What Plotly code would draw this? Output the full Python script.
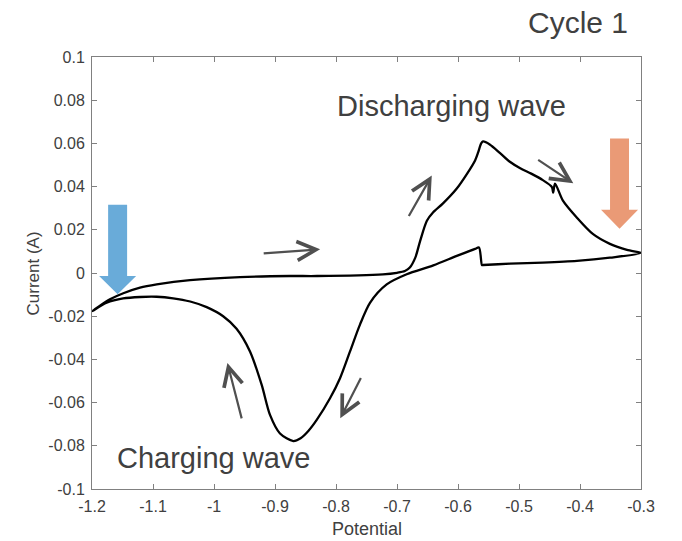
import plotly.graph_objects as go

# Forward (anodic) scan: -1.2 -> -0.3
fwd_x = [-1.2, -1.1705, -1.1487, -1.1213, -1.0939, -1.0393, -0.9574, -0.8754, -0.831, -0.723,
         -0.700, -0.687, -0.679, -0.670, -0.662, -0.651, -0.641, -0.625, -0.602, -0.585,
         -0.572, -0.567, -0.562, -0.559, -0.548, -0.531, -0.515, -0.498, -0.480, -0.461,
         -0.446, -0.444, -0.441, -0.428, -0.405, -0.379, -0.351, -0.323, -0.300]
fwd_y = [-0.0177, -0.0122, -0.0094, -0.0068, -0.0053, -0.0033, -0.0019, -0.0014, -0.0014, -0.0006,
         0.0001, 0.0009, 0.0025, 0.0071, 0.0149, 0.0242, 0.0280, 0.0321, 0.0391, 0.0460,
         0.0521, 0.0558, 0.0600, 0.0609, 0.0595, 0.0555, 0.0515, 0.0485, 0.0460, 0.0430,
         0.0398, 0.0372, 0.0414, 0.0335, 0.0256, 0.0181, 0.0135, 0.0107, 0.0093]

# Reverse (cathodic) scan: -0.3 -> -1.2
rev_x = [-0.300, -0.351, -0.405, -0.461, -0.515, -0.559, -0.5607, -0.5656, -0.572, -0.602,
         -0.6405, -0.6841, -0.7169, -0.7443, -0.7607, -0.7770, -0.7934, -0.8098, -0.8316, -0.845,
         -0.858, -0.8700, -0.8918, -0.9082, -0.9218, -0.9410, -0.963, -0.985, -1.012, -1.039,
         -1.067, -1.094, -1.121, -1.149, -1.176, -1.2]
rev_y = [0.0093, 0.0071, 0.0056, 0.0048, 0.0043, 0.0037, 0.0037, 0.0118, 0.0112, 0.0079,
         0.0035, -0.0006, -0.0053, -0.0138, -0.0239, -0.0363, -0.0487, -0.0580, -0.0680, -0.0730,
         -0.0765, -0.0778, -0.0743, -0.0657, -0.0518, -0.0363, -0.0258, -0.0200, -0.0158, -0.0132,
         -0.0117, -0.0110, -0.0111, -0.0118, -0.0138, -0.0177]

x_ticks = [-1.2, -1.1, -1.0, -0.9, -0.8, -0.7, -0.6, -0.5, -0.4, -0.3]
x_tick_labels = ["-1.2", "-1.1", "-1", "-0.9", "-0.8", "-0.7", "-0.6", "-0.5", "-0.4", "-0.3"]
y_ticks = [-0.1, -0.08, -0.06, -0.04, -0.02, 0, 0.02, 0.04, 0.06, 0.08, 0.1]
y_tick_labels = ["-0.1", "-0.08", "-0.06", "-0.04", "-0.02", "0", "0.02", "0.04", "0.06", "0.08", "0.1"]

# Direction arrows: (tail_x, tail_y, head_x, head_y)
scan_arrows = [
    (-0.921, 0.0090, -0.826, 0.0110),
    (-0.682, 0.0257, -0.643, 0.0451),
    (-0.471, 0.0528, -0.411, 0.0415),
    (-0.758, -0.0479, -0.793, -0.0673),
    (-0.954, -0.0680, -0.978, -0.0417),
]

# Block arrows: (center_x, top_y, head_base_y, tip_y, color)
block_arrows = [
    (-1.158, 0.0316, -0.0014, -0.0098, "#69ABD9"),
    (-0.3352, 0.0623, 0.0293, 0.0205, "#EA9A76"),
]
shaft_w = 0.0311
head_w = 0.0607

text_col = "#404040"
font_fam = "Liberation Sans, Arial, sans-serif"

fig = go.Figure()
fig.add_trace(go.Scatter(x=fwd_x + rev_x[1:], y=fwd_y + rev_y[1:], mode="lines",
                         line=dict(color="black", width=2.3, shape="spline", smoothing=0.8),
                         hoverinfo="skip", showlegend=False))

shapes = []
for cx, top, base, tip, col in block_arrows:
    sw, hw = shaft_w / 2, head_w / 2
    path = (f"M {cx-sw},{top} L {cx+sw},{top} L {cx+sw},{base} L {cx+hw},{base} "
            f"L {cx},{tip} L {cx-hw},{base} L {cx-sw},{base} Z")
    shapes.append(dict(type="path", path=path, xref="x", yref="y",
                       fillcolor=col, line=dict(width=0), layer="above"))

annotations = []
for tx, ty, hx, hy in scan_arrows:
    annotations.append(dict(x=hx, y=hy, ax=tx, ay=ty, xref="x", yref="y", axref="x", ayref="y",
                            text="", showarrow=True, arrowhead=5, arrowsize=1.7, arrowwidth=2.2,
                            arrowcolor="#505050", standoff=0))

annotations += [
    dict(text="Cycle 1", xref="paper", yref="paper", x=0.978, y=1.081, xanchor="right",
         yanchor="middle", showarrow=False, borderpad=0,
         font=dict(size=30, color=text_col, family=font_fam)),
    dict(text="Discharging wave", xref="x", yref="y", x=-0.6107, y=0.0772, showarrow=False,
         font=dict(size=29, color=text_col, family=font_fam)),
    dict(text="Charging wave", xref="x", yref="y", x=-1.0016, y=-0.0856, showarrow=False,
         font=dict(size=29, color=text_col, family=font_fam)),
    dict(text="Potential", xref="paper", yref="paper", x=0.5, y=-0.0926, xanchor="center",
         yanchor="middle", showarrow=False, font=dict(size=18, color=text_col, family=font_fam)),
    dict(text="Current (A)", xref="paper", yref="paper", x=-0.1066, y=0.5, xanchor="center",
         yanchor="middle", textangle=-90, showarrow=False,
         font=dict(size=17, color=text_col, family=font_fam)),
]

axis_common = dict(showgrid=False, zeroline=False, showline=True, linecolor="#808080", linewidth=1,
                   mirror="ticks", ticks="inside", ticklen=5, tickcolor="#808080",
                   ticklabelstandoff=3,
                   tickfont=dict(size=16, color=text_col, family=font_fam))

fig.update_layout(
    width=682, height=541,
    margin=dict(l=92, r=41, t=57, b=52, autoexpand=False),
    plot_bgcolor="white", paper_bgcolor="white",
    xaxis=dict(range=[-1.2, -0.3], tickvals=x_ticks, ticktext=x_tick_labels, **axis_common),
    yaxis=dict(range=[-0.1, 0.1], tickvals=y_ticks, ticktext=y_tick_labels, **axis_common),
    shapes=shapes, annotations=annotations,
)

fig.write_html("out.html", config={"displayModeBar": False},
               post_script="document.body.style.margin='0';document.body.style.overflow='hidden';")
